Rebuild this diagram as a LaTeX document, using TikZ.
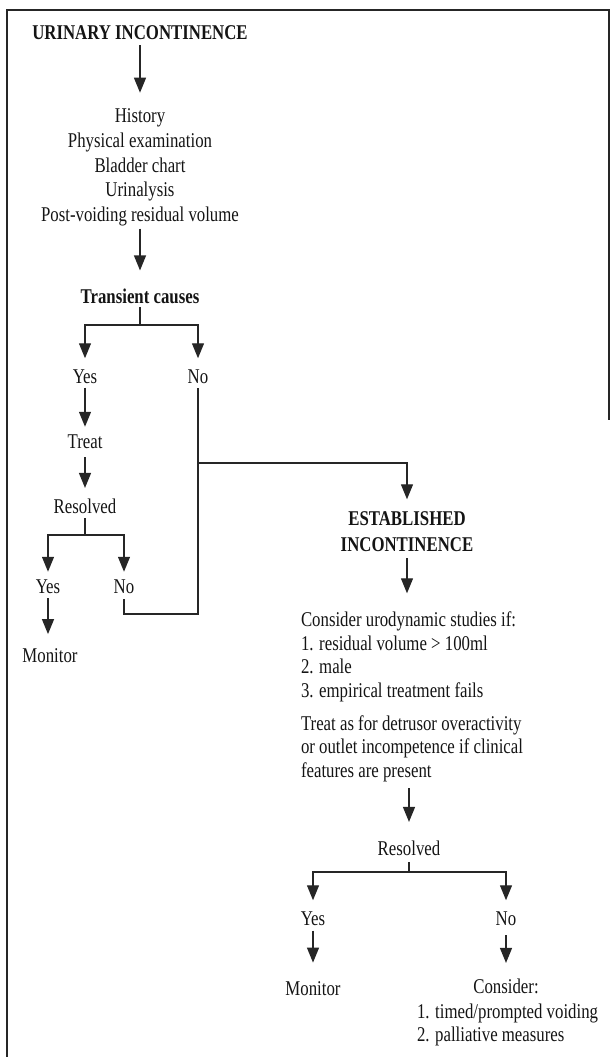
\documentclass[tikz,border=0pt]{standalone}
\usepackage{fontspec}
\setmainfont{Liberation Serif}[FakeStretch=0.8]
\usetikzlibrary{arrows.meta}
\definecolor{ink}{gray}{0.15}
\begin{document}
\begin{tikzpicture}[x=1pt,y=-1pt,
  every node/.style={inner sep=0pt, outer sep=0pt, text=black!92, font=\fontsize{21}{24.75}\selectfont},
  hd/.style={font=\fontsize{21}{26}\selectfont\bfseries},
  lst/.style={font=\fontsize{21}{23.5}\selectfont},
  ln/.style={draw=ink, line width=1.3pt},
  arr/.style={ln, -{Triangle[width=12pt,length=15pt]}},
]
\useasboundingbox (0,0) rectangle (611,1057);
\draw[ln, line width=1.5pt] (7,1057) -- (7,10) -- (609,10) -- (609,420);

% nodes
\node[hd, anchor=base] (title) at (140,40) {URINARY INCONTINENCE};
\node[anchor=north, align=center] (hist) at (140,108.7) {History\\Physical examination\\Bladder chart\\Urinalysis\\Post-voiding residual volume};
\node[hd, anchor=base] (trans) at (140,303) {Transient causes};
\node[anchor=base] (yes1) at (85,383) {Yes};
\node[anchor=base] (no1) at (198,383) {No};
\node[anchor=base] (treat) at (85,448) {Treat};
\node[anchor=base] (res1) at (85,513) {Resolved};
\node[anchor=base] (yes2) at (48,593) {Yes};
\node[anchor=base] (no2) at (124,593) {No};
\node[anchor=base] (mon1) at (50,662) {Monitor};
\node[hd, anchor=north, align=center] (est) at (407,511.3) {ESTABLISHED\\INCONTINENCE};
\node[lst, anchor=north west, align=left] (cons) at (301,611.8) {Consider urodynamic studies if:\\1. residual volume > 100ml\\2. male\\3. empirical treatment fails\\[9.5pt]Treat as for detrusor overactivity\\or outlet incompetence if clinical\\features are present};
\node[anchor=base] (res2) at (409,855) {Resolved};
\node[anchor=base] (yes3) at (313,925) {Yes};
\node[anchor=base] (no3) at (506,925) {No};
\node[anchor=base] (mon2) at (313,995) {Monitor};
\node[anchor=base] (con2) at (506,993) {Consider:};
\node[lst, anchor=north west, align=left] (con2l) at (417,1003.8) {1. timed/prompted voiding\\2. palliative measures};

% junction points
\coordinate (b1) at (140,325);
\coordinate (b2) at (85,535);
\coordinate (lp) at (198,614);
\coordinate (j) at (198,463);
\coordinate (b3) at (409,872);

% connectors
\draw[arr, shorten <=5pt, shorten >=16pt] (title.south) -- (hist.north);
\draw[arr, shorten <=2.5pt, shorten >=18pt] (hist.south) -- (trans.north);
\draw[ln, shorten <=4pt] (trans.south) -- (b1);
\draw[arr, shorten >=11pt] (b1) -| (yes1.north);
\draw[arr, shorten >=11pt] (b1) -| (no1.north);
\draw[arr, shorten <=4.5pt, shorten >=7.5pt] (yes1.south) -- (treat.north);
\draw[arr, shorten <=9pt, shorten >=10.5pt] (treat.south) -- (res1.north);
\draw[ln, shorten <=5pt] (res1.south) -- (b2);
\draw[arr, shorten >=7.5pt] (b2) -| (yes2.north);
\draw[arr, shorten >=7.5pt] (b2) -| (no2.north);
\draw[arr, shorten <=5pt, shorten >=14pt] (yes2.south) -- (yes2.south |- mon1.north);
\draw[ln, shorten <=6pt, shorten >=5pt] (no2.south) |- (lp) -- (no1.south);
\draw[arr, shorten >=12pt] (j) -| (est.north);
\draw[arr, shorten <=7pt, shorten >=18.5pt] (est.south) -- (est.south |- cons.north);
\draw[arr, shorten <=6.5pt, shorten >=18.5pt] (res2.north |- cons.south) -- (res2.north);
\draw[ln, shorten <=7pt] (res2.south) -- (b3);
\draw[arr, shorten >=11pt] (b3) -| (yes3.north);
\draw[arr, shorten >=11pt] (b3) -| (no3.north);
\draw[arr, shorten <=5.5pt, shorten >=18.5pt] (yes3.south) -- (mon2.north);
\draw[arr, shorten <=10pt, shorten >=15.5pt] (no3.south) -- (no3.south |- con2.north);
\end{tikzpicture}
\end{document}
